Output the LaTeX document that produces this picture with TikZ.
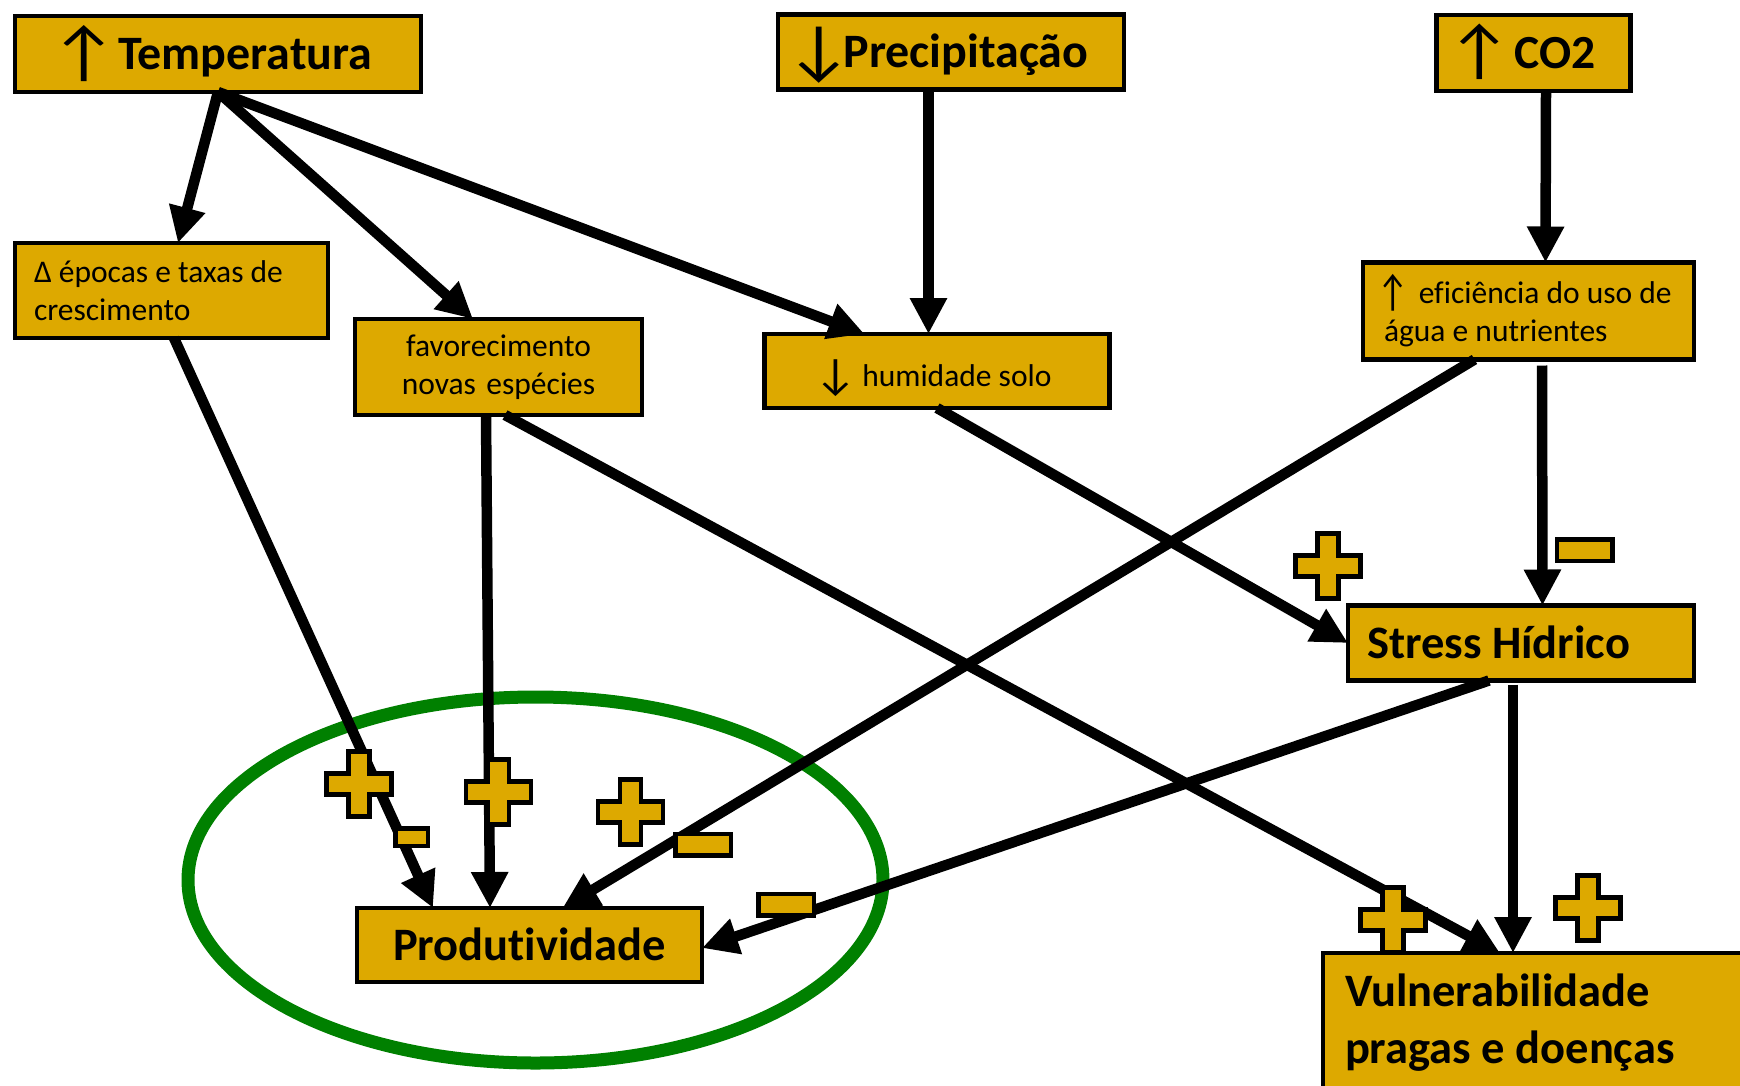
\documentclass[tikz,border=0pt]{standalone}
\usepackage{fontspec}
\setmainfont{Carlito}[Ligatures=NoCommon]
\usetikzlibrary{arrows.meta}
\definecolor{boxgold}{RGB}{221,169,0}
\definecolor{ringgreen}{RGB}{0,128,0}
% #1 glyph, #2 horizontal scale, #3 side bearing to remove
\newcommand{\arr}[3]{\kern-#3\raisebox{-0.1em}{\scalebox{#2}[1.4]{\mdseries #1}}\kern-#3}
\begin{document}
\begin{tikzpicture}[x=1pt,y=-1pt,
  box/.style={draw=black, line width=4.8pt, fill=boxgold, rectangle, inner sep=0pt, outer sep=0pt},
  bigtxt/.style={font=\bfseries\fontsize{46.5}{57}\selectfont},
  bigone/.style={bigtxt, text height=30pt, text depth=0pt},
  hugeone/.style={font=\bfseries\fontsize{48}{57}\selectfont, text height=31pt, text depth=0pt},
  smalltxt/.style={font=\fontsize{31.5}{38}\selectfont},
  link/.style={line width=10.5pt, -{Triangle[length=36pt,width=35pt]}},
  signstyle/.style={fill=boxgold, draw=black, line width=4.5pt},
  plussign/.pic={\filldraw[signstyle] (-10.5,-32.5) -- (10.5,-32.5) -- (10.5,-10.5) -- (32.5,-10.5) -- (32.5,10.5) -- (10.5,10.5) -- (10.5,32.5) -- (-10.5,32.5) -- (-10.5,10.5) -- (-32.5,10.5) -- (-32.5,-10.5) -- (-10.5,-10.5) -- cycle;},
  minussign/.pic={\filldraw[signstyle] (-27.75,-10.75) rectangle (27.75,10.75);},
  smallminus/.pic={\filldraw[signstyle] (-16.25,-8.75) rectangle (16.25,8.75);},
]
\useasboundingbox[fill=white] (0,0) rectangle (1740,1085);

% green ring
\draw[ringgreen, line width=13pt] (535.5,880) ellipse (347.5 and 183);

% boxes
\node[box, hugeone, minimum width=406pt, minimum height=76pt, align=center] (temp) at (218,54) {\arr{↑}{1.55}{0.28em}\hspace{14pt}Temperatura};
\node[box, hugeone, minimum width=346pt, minimum height=75pt, text width=304pt, align=flush left] (precip) at (951,52) {\arr{↓}{1.55}{0.28em}\hspace{4pt}Precipitação};
\node[box, bigone, font=\bfseries\fontsize{47.5}{57}\selectfont, minimum width=194pt, minimum height=76pt, text width=147pt, align=flush left] (co2) at (1533.5,53) {\arr{↑}{1.5}{0.27em}\hspace{16pt}CO2};
\node[box, smalltxt, minimum width=313pt, minimum height=95pt, text width=275pt, align=flush left] (epocas) at (171.5,290.5) {Δ épocas e taxas de\\crescimento};
\node[box, smalltxt, minimum width=287pt, minimum height=96pt, text width=260pt, align=center] (favor) at (498.5,367) {favorecimento\\novas espécies};
\node[box, smalltxt, text height=30pt, text depth=0pt, minimum width=345pt, minimum height=74pt, align=center] (humid) at (937,371) {\arr{↓}{1.5}{0.27em}\hspace{14pt}humidade solo};
\node[box, smalltxt, minimum width=331pt, minimum height=97pt, text width=289pt, align=flush left] (efic) at (1528.5,311) {\mbox{\arr{↑}{1.1}{0.2em}\hspace{16pt}eficiência do uso de}\\água e nutrientes};
\node[box, bigone, minimum width=346pt, minimum height=75pt, text width=308pt, align=flush left] (stress) at (1521,643) {Stress Hídrico};
\node[box, bigone, minimum width=345pt, minimum height=74pt, align=center] (prod) at (529.5,945) {Produtividade};
\node[box, bigtxt, anchor=north west, minimum width=450pt, minimum height=140pt, text width=406pt, align=flush left] (vuln) at (1323,953) {Vulnerabilidade\\pragas e doenças};

% connectors
\draw[link] (temp.south) -- ([xshift=6.5pt]epocas.north);
\draw[link] (temp.south) -- ([xshift=-25.5pt]favor.north);
\draw[link] (temp.south) -- ([xshift=-72.5pt]humid.north);
\draw[link] ([xshift=-22.5pt]precip.south) -- ([xshift=-8.5pt]humid.north);
\draw[link] ([xshift=12.5pt]co2.south) -- ([xshift=17pt]efic.north);
\draw[link] ([xshift=2.5pt]epocas.south) -- ([xshift=-96.5pt]prod.north);
\draw[link] ([xshift=-12.5pt]favor.south) -- ([xshift=-39.5pt]prod.north);
\draw[link] ([xshift=6.5pt]favor.south) -- ([xshift=177pt]vuln.north west);
\draw[link] (humid.south) -- (stress.west);
\draw[link] ([xshift=-54pt]efic.south) -- ([xshift=33pt]prod.north);
\draw[link] ([xshift=13.5pt,yshift=-6pt]efic.south) -- ([xshift=21.5pt]stress.north);
\draw[link] ([xshift=-32pt]stress.south) -- ([yshift=-3pt]prod.east);
\draw[link] ([xshift=-8pt,yshift=-4pt]stress.south) -- ([xshift=190pt]vuln.north west);

% signs
\pic at (1328,566) {plussign};
\pic at (359,784) {plussign};
\pic at (498.5,792) {plussign};
\pic at (630.5,812) {plussign};
\pic at (1393,920) {plussign};
\pic at (1588,908) {plussign};
\pic at (1584.5,550) {minussign};
\pic at (703,844.5) {minussign};
\pic at (786,904.5) {minussign};
\pic at (411.5,837) {smallminus};
\end{tikzpicture}
\end{document}
